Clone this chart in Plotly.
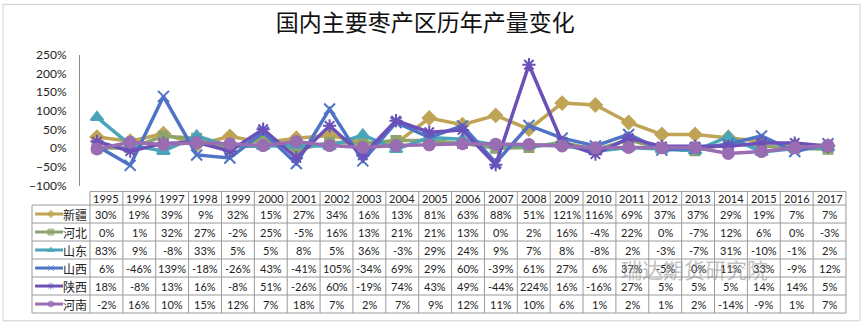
import plotly.graph_objects as go

years = [str(y) for y in range(1995, 2018)]
names = ["新疆", "河北", "山东", "山西", "陕西", "河南"]
xinjiang = [30, 19, 39, 9, 32, 15, 27, 34, 16, 13, 81, 63, 88, 51, 121, 116, 69, 37, 37, 29, 19, 7, 7]
hebei = [0, 1, 32, 27, -2, 25, -5, 16, 13, 21, 21, 13, 0, 2, 16, -4, 22, 0, -7, 12, 6, 0, -3]
shandong = [83, 9, -8, 33, 5, 5, 8, 5, 36, -3, 29, 24, 9, 7, 8, -8, 2, -3, -7, 31, -10, -1, 2]
shanxi = [6, -46, 139, -18, -26, 43, -41, 105, -34, 69, 29, 60, -39, 61, 27, 6, 37, -5, 0, 11, 33, -9, 12]
shaanxi = [18, -8, 13, 16, -8, 51, -26, 60, -19, 74, 43, 49, -44, 224, 16, -16, 27, 5, 5, 5, 14, 14, 5]
henan = [-2, 16, 10, 15, 12, 7, 18, 7, 2, 7, 9, 12, 11, 10, 6, 1, 2, 1, 2, -14, -9, 1, 7]
series = [xinjiang, hebei, shandong, shanxi, shaanxi, henan]

colors = ["#C0A456", "#8EA46C", "#4AA4BA", "#4F73C5", "#6A50B8", "#9A6DB2"]
symbols = ["diamond", "square", "triangle-up", "x-thin-open", "asterisk-open", "circle"]
msizes = [10, 9, 11, 11, 11, 11]

fig = go.Figure()
for name, vals, c, s, ms in zip(names, series, colors, symbols, msizes):
    fig.add_trace(go.Scatter(
        x=years, y=[v / 100 for v in vals], name=name, mode="lines+markers",
        line=dict(color=c, width=3.5),
        marker=dict(symbol=s, size=ms, color=c, line=dict(color=c, width=2)),
        xaxis="x", yaxis="y", showlegend=False, cliponaxis=False,
    ))

# legend keys in table (row labels)
for i, (name, c, s) in enumerate(zip(names, colors, symbols)):
    fig.add_trace(go.Scatter(
        x=[-2.17, -1.69, -1.32], y=[i, i, i], mode="lines+markers",
        line=dict(color=c, width=3),
        marker=dict(symbol=s, size=[0, 6, 0], color=c, line=dict(color=c, width=1)),
        xaxis="x2", yaxis="y2", showlegend=False, hoverinfo="skip",
    ))

grid = "#9A9A9A"
shapes = []
# table vertical lines
for k in range(len(years) + 1):
    shapes.append(dict(type="line", xref="x2", yref="y2", x0=-0.5 + k, x1=-0.5 + k,
                       y0=-1.257, y1=5.5, line=dict(color=grid, width=1)))
shapes.append(dict(type="line", xref="x2", yref="y2", x0=-2.264, x1=-2.264,
                   y0=-0.5, y1=5.5, line=dict(color=grid, width=1)))
# horizontal lines
shapes.append(dict(type="line", xref="x2", yref="y2", x0=-0.5, x1=22.5,
                   y0=-1.257, y1=-1.257, line=dict(color=grid, width=1)))
for r in range(len(names) + 1):
    shapes.append(dict(type="line", xref="x2", yref="y2", x0=-2.264, x1=22.5,
                       y0=-0.5 + r, y1=-0.5 + r, line=dict(color=grid, width=1)))
# chart frame
shapes.append(dict(type="rect", xref="paper", yref="paper", x0=-0.033, x1=1.0147,
                   y0=-0.0225, y1=1.1948, line=dict(color="#CFCFCF", width=1)))

annotations = []
tfont = dict(family="Lato, 'Liberation Sans', sans-serif", size=11, color="#222222")
for j, yr in enumerate(years):
    annotations.append(dict(x=j, y=-0.878, xref="x2", yref="y2", text=yr,
                            showarrow=False, font=tfont))
for i, vals in enumerate(series):
    for j, v in enumerate(vals):
        annotations.append(dict(x=j, y=i, xref="x2", yref="y2", text=f"{v}%",
                                showarrow=False, font=tfont))
for i, name in enumerate(names):
    annotations.append(dict(x=-0.96, y=i, xref="x2", yref="y2", text=name,
                            showarrow=False,
                            font=dict(family="Noto Sans CJK SC", size=12, color="#222222")))
# watermark
annotations.append(dict(x=0.905, y=0.112, xref="paper", yref="paper", text="瑞达期货研究院",
                        showarrow=False,
                        font=dict(family="Noto Sans CJK SC", size=21, color="rgba(140,140,140,0.55)")))

fig.update_layout(
    width=866, height=331,
    margin=dict(l=30, r=18, t=55, b=9),
    paper_bgcolor="white", plot_bgcolor="rgba(0,0,0,0)",
    title=dict(text="国内主要枣产区历年产量变化", x=0.491, xanchor="center",
               y=1 - 23 / 331, yanchor="middle", yref="container",
               font=dict(family="Noto Sans CJK SC", size=23, color="#111111")),
    xaxis=dict(domain=[0.0611, 1], range=[-0.5116, 22.602], type="category",
               showticklabels=False, showgrid=False, zeroline=False, showline=False,
               anchor="y"),
    yaxis=dict(domain=[0.498, 1.0], range=[-1.0, 2.5], dtick=0.5, tickformat=".0%",
               showgrid=False, zeroline=False, showline=True, linecolor="#8A8A8A",
               linewidth=1, ticks="", ticklabelstandoff=10, anchor="x",
               tickfont=dict(family="Lato, 'Liberation Sans', sans-serif", size=12, color="#222222")),
    xaxis2=dict(domain=[0, 1], range=[-2.325, 22.561], showticklabels=False,
                showgrid=False, zeroline=False, showline=False, anchor="y2"),
    yaxis2=dict(domain=[0.0041, 0.479], range=[5.55, -1.31], showticklabels=False,
                showgrid=False, zeroline=False, showline=False, anchor="x2"),
    shapes=shapes, annotations=annotations,
)

fig.write_html("out.html")
